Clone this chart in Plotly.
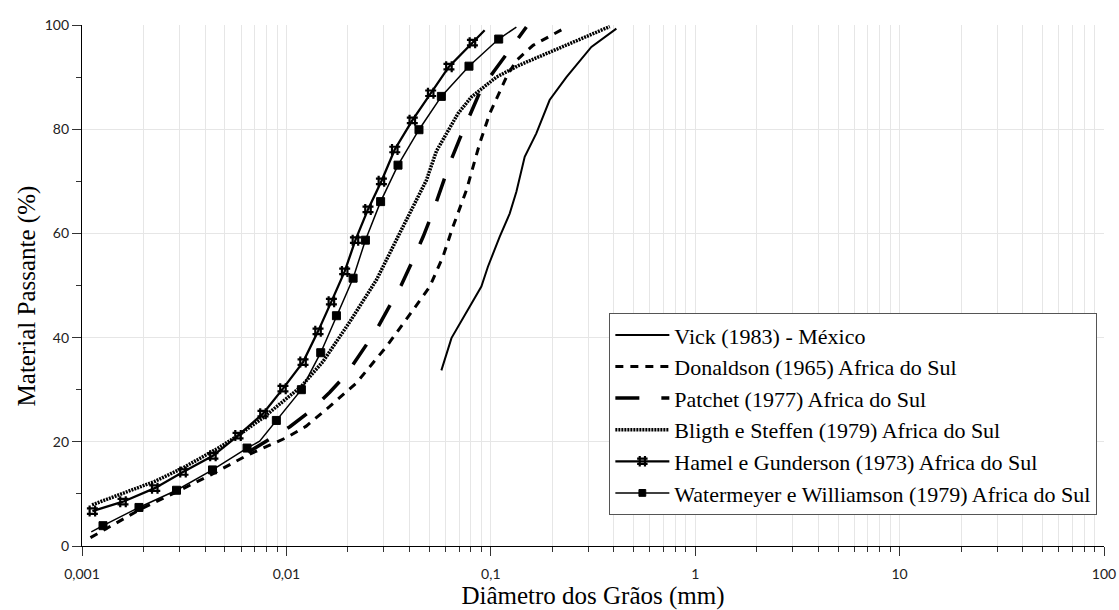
import plotly.graph_objects as go

# ---- data (diameter mm, % passing) ----
vick_x = [0.0573, 0.0642, 0.0899, 0.0968, 0.1106, 0.1237, 0.1334, 0.1465, 0.167, 0.194, 0.2344, 0.3105, 0.4115]
vick_y = [33.7, 39.9, 49.8, 53.6, 59.4, 63.8, 68.0, 74.7, 79.2, 85.6, 90.0, 95.8, 99.3]

donaldson_x = [0.0011, 0.00192, 0.00284, 0.00429, 0.00649, 0.01, 0.0125, 0.0163, 0.022, 0.0309, 0.0401,
               0.0503, 0.0583, 0.0653, 0.076, 0.0883, 0.0988, 0.1192, 0.1334, 0.161, 0.2344]
donaldson_y = [1.6, 7.0, 10.2, 13.7, 17.5, 20.8, 23.0, 26.8, 31.3, 38.3, 44.4,
               49.8, 55.5, 61.3, 68.3, 77.3, 83.0, 90.0, 93.2, 96.1, 99.6]

patchet_x = [0.0065, 0.0104, 0.013, 0.0163, 0.0197, 0.0234, 0.0276, 0.0318, 0.0365, 0.0416, 0.0467,
             0.0522, 0.0573, 0.0629, 0.0705, 0.0789, 0.0899, 0.1045, 0.1493]
patchet_y = [18.0, 22.9, 25.8, 29.5, 33.0, 37.3, 41.5, 45.9, 50.1, 54.9, 59.4,
             64.2, 68.6, 73.4, 78.2, 82.7, 87.8, 91.3, 99.6]

bligth_x = [0.00112, 0.00159, 0.00227, 0.00312, 0.00455, 0.0058, 0.00768, 0.0118, 0.0151, 0.0204, 0.0246,
            0.0276, 0.0358, 0.0484, 0.0542, 0.0691, 0.0804, 0.1065, 0.138, 0.382]
bligth_y = [7.9, 10.2, 12.4, 15.0, 18.6, 21.2, 24.6, 30.6, 35.4, 43.0, 47.9,
            51.1, 60.0, 70.2, 75.8, 83.0, 86.2, 90.0, 92.3, 99.7]

hamel_x = [0.001124, 0.001587, 0.00227, 0.00312, 0.00437, 0.0058, 0.00768, 0.00962, 0.01206, 0.01428, 0.0166,
           0.01928, 0.02176, 0.02507, 0.02916, 0.0339, 0.0413, 0.0508, 0.0624, 0.0813, 0.0933]
hamel_y = [6.7, 8.5, 11.1, 14.2, 17.3, 21.2, 25.4, 30.2, 35.3, 41.2, 46.9,
           52.7, 58.7, 64.6, 70.0, 76.1, 81.7, 86.9, 92.0, 96.6, 99.0]

water_x = [0.00111, 0.001267, 0.0019, 0.0029, 0.00435, 0.00642, 0.0074, 0.00893, 0.01184, 0.01472, 0.01757,
           0.0212, 0.02435, 0.0289, 0.03516, 0.04453, 0.0573, 0.0782, 0.1093, 0.1334]
water_y = [2.7, 3.9, 7.4, 10.7, 14.6, 18.8, 20.1, 24.1, 30.0, 37.1, 44.2,
           51.4, 58.7, 66.1, 73.1, 79.9, 86.3, 92.1, 97.3, 99.6]

names = ["Vick (1983) - México",
         "Donaldson (1965) Africa do Sul",
         "Patchet (1977) Africa do Sul",
         "Bligth e Steffen (1979) Africa do Sul",
         "Hamel e Gunderson (1973) Africa do Sul",
         "Watermeyer e Williamson (1979) Africa do Sul"]

x_tickvals = [0.001, 0.01, 0.1, 1, 10, 100]
x_ticktext = ["0,001", "0,01", "0,1", "1", "10", "100"]
y_tickvals = [0, 20, 40, 60, 80, 100]

fig = go.Figure()
fig.add_trace(go.Scatter(x=vick_x, y=vick_y, name=names[0], mode="lines",
                         line=dict(color="black", width=2)))
fig.add_trace(go.Scatter(x=donaldson_x, y=donaldson_y, name=names[1], mode="lines",
                         line=dict(color="black", width=3, dash="8px,7px")))
fig.add_trace(go.Scatter(x=patchet_x, y=patchet_y, name=names[2], mode="lines",
                         line=dict(color="black", width=3.5, dash="24px,22px")))
fig.add_trace(go.Scatter(x=bligth_x, y=bligth_y, name=names[3], mode="lines",
                         line=dict(color="black", width=3.5, dash="2px,1px")))
h_sizes = [11] * (len(hamel_x) - 1) + [0]
fig.add_trace(go.Scatter(x=hamel_x, y=hamel_y, name=names[4], mode="lines+markers",
                         line=dict(color="black", width=2.3),
                         marker=dict(symbol="hash-open", size=h_sizes, color="#000000", opacity=1,
                                     line=dict(color="#000000", width=2.2))))
w_sizes = [8] * len(water_x)
w_sizes[0] = 0
w_sizes[6] = 0
w_sizes[-1] = 0
fig.add_trace(go.Scatter(x=water_x, y=water_y, name=names[5], mode="lines+markers",
                         line=dict(color="black", width=1.5),
                         marker=dict(symbol="square", size=w_sizes, color="#000000", opacity=1,
                                     line=dict(color="#000000", width=1))))

tickfont = dict(family="Lato, Liberation Sans, sans-serif", size=14, color="#222")
titlefont = dict(family="Liberation Serif, Times New Roman, serif", size=25, color="black")

fig.update_xaxes(type="log", range=[-3, 2], tickvals=x_tickvals, ticktext=x_ticktext,
                 ticks="outside", ticklen=9, tickcolor="#333", tickfont=tickfont, ticklabelstandoff=6,
                 showline=True, linecolor="black", linewidth=1.3, mirror=False, automargin=False,
                 showgrid=True, gridcolor="#e6e6e6", gridwidth=1, zeroline=False,
                 minor=dict(ticks="outside", ticklen=5, tickcolor="#333", showgrid=True,
                            gridcolor="#e6e6e6", dtick="D1"),
                 title=dict(text="Diâmetro dos Grãos (mm)", font=titlefont, standoff=10))
fig.update_yaxes(range=[0, 100], tickvals=y_tickvals, ticks="outside", ticklen=9, tickcolor="#333",
                 tickfont=tickfont, showline=True, linecolor="black", linewidth=1.3, automargin=False,
                 showgrid=True, gridcolor="#e6e6e6", gridwidth=1, zeroline=False,
                 minor=dict(ticks="outside", ticklen=5, tickcolor="#333", dtick=10, showgrid=False))

fig.add_annotation(text="Material Passante (%)", textangle=-90, font=titlefont,
                   xref="paper", yref="paper", x=0, xshift=-55, y=0.479,
                   xanchor="center", yanchor="middle", showarrow=False)

fig.update_layout(
    width=1119, height=610,
    margin=dict(l=82, r=15, t=25, b=64),
    paper_bgcolor="white", plot_bgcolor="white",
    showlegend=True,
    legend=dict(x=0.516, y=0.447, xanchor="left", yanchor="top",
                bgcolor="white", bordercolor="#555", borderwidth=1,
                font=dict(family="Liberation Serif, Times New Roman, serif", size=22, color="black"),
                itemwidth=54),
)

fig.write_html("out.html")
